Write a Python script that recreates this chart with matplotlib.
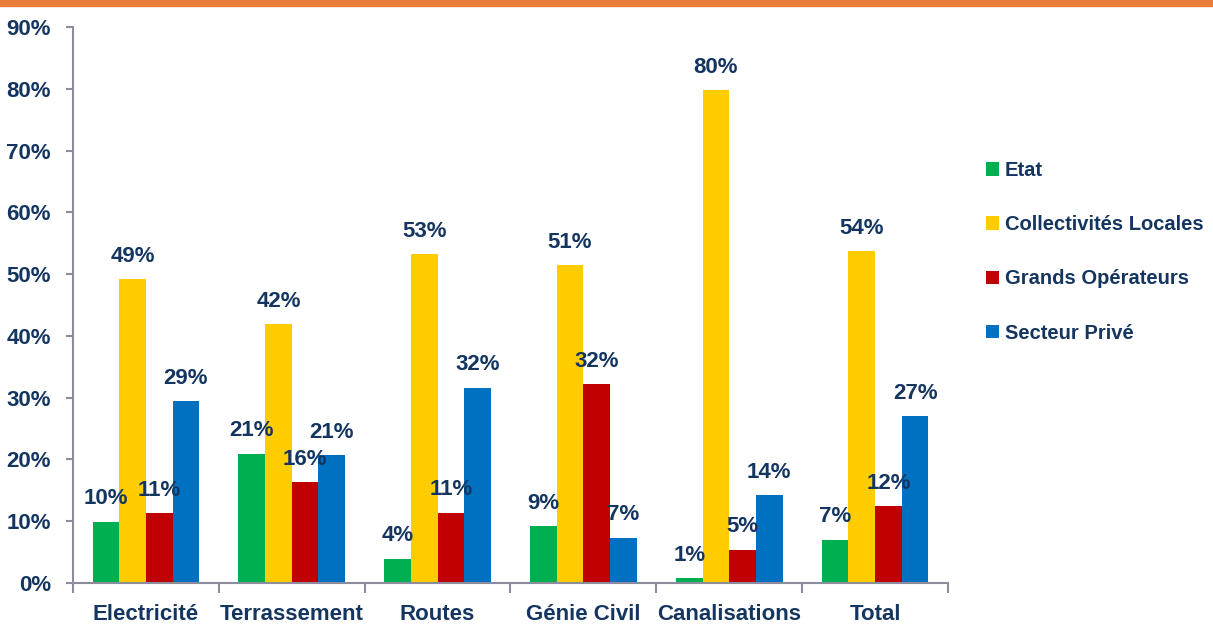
import numpy as np
import matplotlib.pyplot as plt
from matplotlib.patches import Rectangle

categories = ["Electricité", "Terrassement", "Routes", "Génie Civil", "Canalisations", "Total"]
series = ["Etat", "Collectivités Locales", "Grands Opérateurs", "Secteur Privé"]
etat = [9.9, 20.9, 3.9, 9.2, 0.8, 7.0]
collectivites = [49.2, 41.9, 53.2, 51.4, 79.8, 53.7]
grands = [11.3, 16.3, 11.4, 32.2, 5.4, 12.4]
prive = [29.4, 20.7, 31.6, 7.3, 14.2, 27.0]
colors = ["#00B050", "#FFCC00", "#C00000", "#0070C0"]

navy = "#14355F"
plt.rcParams['font.family'] = ['Liberation Sans', 'DejaVu Sans']
plt.rcParams['font.weight'] = 'bold'

fig = plt.figure(figsize=(12.13, 6.24), dpi=100)
ax = fig.add_axes([0.0602, 0.0657, 0.7213, 0.891])

# orange strip at the top
fig.patches.append(Rectangle((0, 0.99), 1, 0.01, transform=fig.transFigure,
                             color="#E97D37", zorder=5))

x = np.arange(len(categories))
w = 0.183
data = [etat, collectivites, grands, prive]
for i, (vals, name, c) in enumerate(zip(data, series, colors)):
    pos = x + (i - 1.5) * w
    ax.bar(pos, vals, width=w, color=c, label=name, zorder=2)
    for p, v in zip(pos, vals):
        ax.annotate(f"{v:.0f}%", (p, v), xytext=(0, 9), textcoords="offset points",
                    ha="center", va="bottom", fontsize=16, color=navy,
                    fontweight="bold", zorder=3)

ax.set_xlim(-0.5, len(categories) - 0.5)
ax.set_ylim(0, 90)
ax.set_yticks(np.arange(0, 91, 10))
ax.set_yticklabels([f"{t}%" for t in range(0, 91, 10)])
ax.set_xticks(x)
ax.set_xticklabels(categories)
ax.set_xticks(np.arange(-0.5, len(categories)), minor=True)

ax.tick_params(axis="x", which="major", length=0, pad=15, labelsize=16, labelcolor=navy)
ax.tick_params(axis="x", which="minor", length=7, width=1.5, color="#8C8C9C", direction="out")
ax.tick_params(axis="y", length=5, width=1.5, color="#8C8C9C", pad=11,
               labelsize=16, labelcolor=navy)

for s in ["top", "right"]:
    ax.spines[s].set_visible(False)
for s in ["left", "bottom"]:
    ax.spines[s].set_color("#8C8C9C")
    ax.spines[s].set_linewidth(1.5)

fig.legend(loc="upper left", bbox_to_anchor=(0.806, 0.755), frameon=False,
           fontsize=14.5, handlelength=0.65, handleheight=0.65, handletextpad=0.3,
           labelspacing=1.75, labelcolor=navy, borderaxespad=0)

fig.savefig("out.png", dpi=100)
